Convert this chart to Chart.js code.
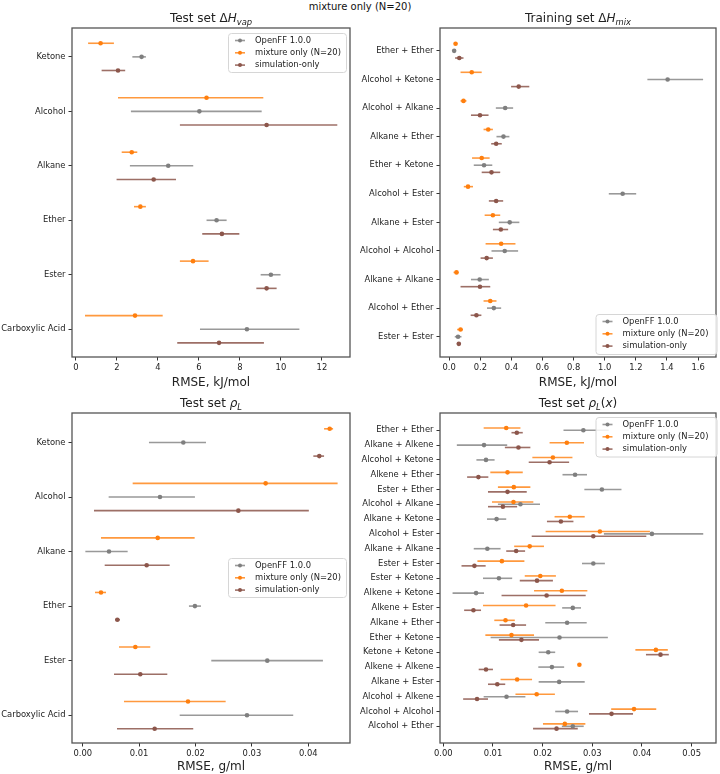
<!DOCTYPE html>
<html>
<head>
<meta charset="utf-8">
<script src="https://cdn.jsdelivr.net/npm/chart.js@4/dist/chart.umd.min.js"></script>
<style>
  body { margin: 0; background: #fff; }
  #fig { position: relative; width: 720px; height: 774px; }
  #fig canvas { position: absolute; }
  #suptitle { position: absolute; left: 0; top: 0; width: 720px; text-align: center;
              font: 10px 'DejaVu Sans', sans-serif; line-height: 13px; color: #111; }
</style>
</head>
<body>
<div id="fig">
  <div id="suptitle">mixture only (N=20)</div>
  <canvas id="hvap" width="360" height="390" style="left:0;top:0"></canvas>
  <canvas id="hmix" width="360" height="390" style="left:360px;top:0"></canvas>
  <canvas id="rho" width="360" height="389" style="left:0;top:385px"></canvas>
  <canvas id="rhox" width="360" height="389" style="left:360px;top:385px"></canvas>
</div>
<script>
// ---- Test set dHvap (kJ/mol)
var hvapCats = ['Ketone', 'Alcohol', 'Alkane', 'Ether', 'Ester', 'Carboxylic Acid'];
var hvapOpenff   = [3.20, 6.02, 4.50, 6.86, 9.51, 8.34];
var hvapOpenffLo = [2.75, 2.68, 2.63, 6.37, 9.01, 6.05];
var hvapOpenffHi = [3.41, 9.06, 5.72, 7.35, 9.98, 10.90];
var hvapMix   = [1.20, 6.37, 2.72, 3.14, 5.71, 2.88];
var hvapMixLo = [0.59, 2.05, 2.23, 2.83, 5.07, 0.44];
var hvapMixHi = [1.85, 9.14, 2.99, 3.41, 6.47, 4.23];
var hvapSim   = [2.05, 9.30, 3.79, 7.12, 9.30, 6.98];
var hvapSimLo = [1.25, 5.07, 1.98, 6.16, 8.80, 4.94];
var hvapSimHi = [2.40, 12.75, 4.88, 7.97, 9.79, 9.17];
var hvapTicks = [0, 2, 4, 6, 8, 10, 12];

// ---- Training set dHmix (kJ/mol)
var hmixCats = ['Ether + Ether', 'Alcohol + Ketone', 'Alcohol + Alkane', 'Alkane + Ether', 'Ether + Ketone',
  'Alcohol + Ester', 'Alkane + Ester', 'Alcohol + Alcohol', 'Alkane + Alkane', 'Alcohol + Ether', 'Ester + Ester'];
var hmixOpenff   = [0.032, 1.404, 0.360, 0.349, 0.224, 1.115, 0.389, 0.357, 0.196, 0.287, 0.057];
var hmixOpenffLo = [0.025, 1.274, 0.300, 0.304, 0.158, 1.026, 0.319, 0.272, 0.140, 0.243, 0.036];
var hmixOpenffHi = [0.040, 1.632, 0.411, 0.387, 0.277, 1.202, 0.451, 0.443, 0.255, 0.334, 0.079];
var hmixMix   = [0.041, 0.145, 0.092, 0.251, 0.209, 0.121, 0.281, 0.334, 0.047, 0.264, 0.073];
var hmixMixLo = [0.030, 0.073, 0.073, 0.221, 0.147, 0.094, 0.228, 0.234, 0.028, 0.221, 0.051];
var hmixMixHi = [0.052, 0.209, 0.111, 0.281, 0.260, 0.153, 0.328, 0.426, 0.060, 0.304, 0.089];
var hmixSim   = [0.065, 0.447, 0.198, 0.302, 0.272, 0.302, 0.332, 0.241, 0.198, 0.175, 0.062];
var hmixSimLo = [0.038, 0.398, 0.140, 0.270, 0.209, 0.255, 0.281, 0.202, 0.073, 0.138, 0.049];
var hmixSimHi = [0.092, 0.515, 0.253, 0.338, 0.328, 0.347, 0.379, 0.281, 0.264, 0.207, 0.075];
var hmixTicks = [0, 0.2, 0.4, 0.6, 0.8, 1.0, 1.2, 1.4, 1.6];

// ---- Test set density (g/ml)
var rhoCats = ['Ketone', 'Alcohol', 'Alkane', 'Ether', 'Ester', 'Carboxylic Acid'];
var rhoOpenff   = [0.01784, 0.0137, 0.00466, 0.0199, 0.03273, 0.02913];
var rhoOpenffLo = [0.01175, 0.0046, 0.00047, 0.01884, 0.0228, 0.0172];
var rhoOpenffHi = [0.02186, 0.0199, 0.00797, 0.02097, 0.0426, 0.03733];
var rhoMix   = [0.0438, 0.03244, 0.0133, 0.00324, 0.00933, 0.01867];
var rhoMixLo = [0.0428, 0.00886, 0.00324, 0.00218, 0.00643, 0.00732];
var rhoMixHi = [0.0444, 0.0452, 0.01985, 0.00413, 0.01198, 0.02535];
var rhoSim   = [0.04195, 0.0276, 0.01134, 0.00614, 0.01021, 0.01276];
var rhoSimLo = [0.0409, 0.0020, 0.0039, 0.00573, 0.00555, 0.00608];
var rhoSimHi = [0.0428, 0.0401, 0.01542, 0.00661, 0.0150, 0.0196];
var rhoTicks = [0, 0.01, 0.02, 0.03, 0.04];

// ---- Test set density of mixtures (g/ml)
var rhoxCats = ['Ether + Ether', 'Alkane + Alkene', 'Alcohol + Ketone', 'Alkene + Ether', 'Ester + Ether',
  'Alcohol + Alkane', 'Alkane + Ketone', 'Alcohol + Ester', 'Alkane + Alkane', 'Ester + Ester', 'Ester + Ketone',
  'Alkene + Ketone', 'Alkene + Ester', 'Alkane + Ether', 'Ether + Ketone', 'Ketone + Ketone', 'Alkene + Alkene',
  'Alkane + Ester', 'Alcohol + Alkene', 'Alcohol + Alcohol', 'Alcohol + Ether'];
var rhoxOpenff   = [0.0282, 0.0082, 0.0086, 0.02653, 0.03193, 0.01553, 0.01073, 0.0420, 0.00887, 0.0302, 0.0112,
  0.0066, 0.02607, 0.02493, 0.0234, 0.02113, 0.02187, 0.02333, 0.01273, 0.02493, 0.02607];
var rhoxOpenffLo = [0.0242, 0.00273, 0.00667, 0.0240, 0.0284, 0.0110, 0.0088, 0.03233, 0.00613, 0.02793, 0.0080,
  0.00187, 0.02393, 0.02053, 0.00953, 0.0192, 0.01913, 0.0192, 0.00813, 0.02253, 0.02387];
var rhoxOpenffHi = [0.0333, 0.01287, 0.01033, 0.02893, 0.03587, 0.01947, 0.01267, 0.05233, 0.01153, 0.03253, 0.01387,
  0.0082, 0.02773, 0.02887, 0.03313, 0.02253, 0.02433, 0.02847, 0.01653, 0.02713, 0.02827];
var rhoxMix   = [0.01267, 0.02487, 0.02207, 0.01293, 0.0142, 0.01413, 0.02547, 0.03153, 0.0174, 0.0118, 0.01953,
  0.02387, 0.01667, 0.01253, 0.01373, 0.0428, 0.0274, 0.01487, 0.0188, 0.0384, 0.02447];
var rhoxMixLo = [0.00813, 0.0214, 0.01793, 0.00947, 0.0110, 0.0098, 0.0224, 0.0206, 0.01427, 0.00687, 0.0164,
  0.01827, 0.0080, 0.01027, 0.00847, 0.03867, 0.0274, 0.01153, 0.01453, 0.0338, 0.02007];
var rhoxMixHi = [0.01553, 0.02833, 0.0260, 0.0160, 0.01753, 0.01813, 0.02847, 0.0416, 0.02027, 0.01633, 0.02267,
  0.0290, 0.0226, 0.0144, 0.01827, 0.0452, 0.0274, 0.01787, 0.02247, 0.04287, 0.0286];
var rhoxSim   = [0.0148, 0.01513, 0.0214, 0.00707, 0.01293, 0.0120, 0.02367, 0.0302, 0.01467, 0.00627, 0.01887,
  0.0208, 0.00607, 0.01407, 0.01573, 0.04373, 0.0086, 0.01087, 0.0068, 0.03387, 0.0228];
var rhoxSimLo = [0.01373, 0.0124, 0.0172, 0.0048, 0.0090, 0.0090, 0.02087, 0.0178, 0.01267, 0.00367, 0.0154,
  0.01173, 0.0042, 0.01133, 0.0112, 0.0408, 0.00713, 0.0090, 0.0040, 0.02933, 0.01807];
var rhoxSimHi = [0.0160, 0.01753, 0.02533, 0.00907, 0.0168, 0.01487, 0.0262, 0.04087, 0.01647, 0.00853, 0.02207,
  0.02867, 0.0076, 0.01667, 0.01927, 0.0454, 0.0100, 0.01247, 0.0090, 0.0382, 0.02707];
var rhoxTicks = [0, 0.01, 0.02, 0.03, 0.04, 0.05];

var seriesNames = ['OpenFF 1.0.0', 'mixture only (N=20)', 'simulation-only'];
var C_OFF = '#7f7f7f', C_MIX = '#ff7f0e', C_SIM = '#8c564b';
var FONT = "'DejaVu Sans', sans-serif";
var TXT = '#222';

// horizontal error bars, drawn under the markers
var errorBars = {
  id: 'errorBars',
  beforeDatasetsDraw: function (chart) {
    var ctx = chart.ctx, x = chart.scales.x, y = chart.scales.y;
    ctx.save();
    ctx.lineWidth = 1.6;
    chart.data.datasets.forEach(function (ds) {
      ctx.strokeStyle = ds.barColor;
      ds.data.forEach(function (p, i) {
        var py = y.getPixelForValue(p.y);
        ctx.beginPath();
        ctx.moveTo(x.getPixelForValue(ds.lo[i]), py);
        ctx.lineTo(x.getPixelForValue(ds.hi[i]), py);
        ctx.stroke();
      });
    });
    ctx.restore();
  }
};

// frame, title with math sub-scripts, legend box
var panelDecor = {
  id: 'panelDecor',
  afterDraw: function (chart, args, opts) {
    var ctx = chart.ctx, a = chart.chartArea;
    ctx.save();
    ctx.strokeStyle = '#555';
    ctx.lineWidth = 1.3;
    ctx.strokeRect(a.left, a.top, a.right - a.left, a.bottom - a.top);

    // title
    var parts = opts.title, total = 0;
    parts.forEach(function (p) {
      var size = p.sub ? 8.4 : 12;
      p.f = (p.it ? 'italic ' : '') + size + 'px ' + FONT;
      ctx.font = p.f;
      p.w = ctx.measureText(p.t).width;
      total += p.w;
    });
    var tx = (a.left + a.right) / 2 - total / 2, base = a.top - 6;
    ctx.fillStyle = TXT;
    ctx.textBaseline = 'alphabetic';
    ctx.textAlign = 'left';
    parts.forEach(function (p) {
      ctx.font = p.f;
      ctx.fillText(p.t, tx, base + (p.sub ? 2.5 : 0));
      tx += p.w;
    });

    // legend
    var lg = opts.legend;
    ctx.beginPath();
    ctx.roundRect(lg.x + 0.5, lg.y + 0.5, lg.w, lg.h, 3);
    ctx.fillStyle = 'rgba(255,255,255,0.85)';
    ctx.fill();
    ctx.strokeStyle = '#d6d6d6';
    ctx.lineWidth = 1;
    ctx.stroke();
    ctx.font = '8.4px ' + FONT;
    ctx.textBaseline = 'middle';
    chart.data.datasets.forEach(function (ds, i) {
      var cy = lg.y + 7.5 + i * 12.3;
      ctx.strokeStyle = ds.barColor;
      ctx.lineWidth = 1.6;
      ctx.beginPath();
      ctx.moveTo(lg.x + 7, cy);
      ctx.lineTo(lg.x + 17, cy);
      ctx.stroke();
      ctx.fillStyle = ds.pointBackgroundColor;
      ctx.beginPath();
      ctx.arc(lg.x + 12, cy, 2, 0, Math.PI * 2);
      ctx.fill();
      ctx.fillStyle = TXT;
      ctx.fillText(ds.label, lg.x + 27, cy);
    });
    ctx.restore();
  }
};

function series(label, color, barColor, vals, lo, hi, off) {
  return {
    label: label,
    data: vals.map(function (v, i) { return { x: v, y: i + off }; }),
    lo: lo, hi: hi,
    barColor: barColor,
    pointBackgroundColor: color,
    pointBorderWidth: 0,
    pointRadius: 2.3,
    showLine: false
  };
}

function makePanel(id, p) {
  var n = p.cats.length;
  new Chart(document.getElementById(id), {
    type: 'scatter',
    data: {
      datasets: [
        series(seriesNames[0], C_OFF, 'rgba(127,127,127,0.8)', p.off[0], p.off[1], p.off[2], 0),
        series(seriesNames[1], C_MIX, 'rgba(255,127,14,0.8)', p.mix[0], p.mix[1], p.mix[2], -p.shift),
        series(seriesNames[2], C_SIM, 'rgba(140,86,75,0.85)', p.sim[0], p.sim[1], p.sim[2], p.shift)
      ]
    },
    options: {
      responsive: false,
      animation: false,
      layout: { padding: { top: 28, right: p.padRight, left: 0, bottom: 0 } },
      plugins: {
        legend: { display: false },
        tooltip: { enabled: false },
        panelDecor: { title: p.title, legend: p.legend }
      },
      scales: {
        x: {
          type: 'linear', min: p.xmin, max: p.xmax,
          afterBuildTicks: function (s) { s.ticks = p.ticks.map(function (v) { return { value: v }; }); },
          afterFit: function (s) { s.height = p.xHeight; },
          ticks: {
            autoSkip: false, maxRotation: 0, padding: 2, color: TXT,
            font: { family: FONT, size: 8.4 },
            callback: function (v) { return v.toFixed(p.dec); }
          },
          grid: { drawOnChartArea: false, tickLength: 3.5, tickColor: '#333' },
          border: { display: false },
          title: { display: true, text: p.xlabel, color: TXT, font: { family: FONT, size: 12 }, padding: 0 }
        },
        y: {
          type: 'linear', reverse: true, min: -p.mTop, max: n - 1 + p.mBottom,
          afterBuildTicks: function (s) { s.ticks = p.cats.map(function (c, i) { return { value: i }; }); },
          afterFit: function (s) { s.width = p.yWidth; },
          ticks: {
            autoSkip: false, padding: 3, color: TXT,
            font: { family: FONT, size: 8.4 },
            callback: function (v) { return p.cats[v]; }
          },
          grid: { drawOnChartArea: false, tickLength: 3.5, tickColor: '#333' },
          border: { display: false }
        }
      }
    },
    plugins: [errorBars, panelDecor]
  });
}

makePanel('hvap', {
  cats: hvapCats, ticks: hvapTicks, dec: 0, xmin: -0.195, xmax: 13.37, mTop: 0.53, mBottom: 0.51, shift: 0.25,
  off: [hvapOpenff, hvapOpenffLo, hvapOpenffHi], mix: [hvapMix, hvapMixLo, hvapMixHi], sim: [hvapSim, hvapSimLo, hvapSimHi],
  xlabel: 'RMSE, kJ/mol', yWidth: 72, padRight: 10, xHeight: 33,
  title: [{ t: 'Test set \u0394' }, { t: 'H', it: true }, { t: 'vap', it: true, sub: true }],
  legend: { x: 228, y: 33, w: 118, h: 39 }
});
makePanel('hmix', {
  cats: hmixCats, ticks: hmixTicks, dec: 1, xmin: -0.059, xmax: 1.715, mTop: 0.8, mBottom: 0.71, shift: 0.25,
  off: [hmixOpenff, hmixOpenffLo, hmixOpenffHi], mix: [hmixMix, hmixMixLo, hmixMixHi], sim: [hmixSim, hmixSimLo, hmixSimHi],
  xlabel: 'RMSE, kJ/mol', yWidth: 80, padRight: 2, xHeight: 33,
  title: [{ t: 'Training set \u0394' }, { t: 'H', it: true }, { t: 'mix', it: true, sub: true }],
  legend: { x: 235.5, y: 314, w: 121, h: 40 }
});
makePanel('rho', {
  cats: rhoCats, ticks: rhoTicks, dec: 2, xmin: -0.0019, xmax: 0.0474, mTop: 0.54, mBottom: 0.51, shift: 0.25,
  off: [rhoOpenff, rhoOpenffLo, rhoOpenffHi], mix: [rhoMix, rhoMixLo, rhoMixHi], sim: [rhoSim, rhoSimLo, rhoSimHi],
  xlabel: 'RMSE, g/ml', yWidth: 72, padRight: 10, xHeight: 31,
  title: [{ t: 'Test set ' }, { t: '\u03c1', it: true }, { t: 'L', it: true, sub: true }],
  legend: { x: 228, y: 173, w: 118, h: 39 }
});
makePanel('rhox', {
  cats: rhoxCats, ticks: rhoxTicks, dec: 2, xmin: -0.00066, xmax: 0.0549, mTop: 1.17, mBottom: 1.13, shift: 0.16,
  off: [rhoxOpenff, rhoxOpenffLo, rhoxOpenffHi], mix: [rhoxMix, rhoxMixLo, rhoxMixHi], sim: [rhoxSim, rhoxSimLo, rhoxSimHi],
  xlabel: 'RMSE, g/ml', yWidth: 80, padRight: 2, xHeight: 31,
  title: [{ t: 'Test set ' }, { t: '\u03c1', it: true }, { t: 'L', it: true, sub: true }, { t: '(' }, { t: 'x', it: true }, { t: ')' }],
  legend: { x: 235.5, y: 32, w: 121, h: 39.5 }
});
</script>
</body>
</html>
